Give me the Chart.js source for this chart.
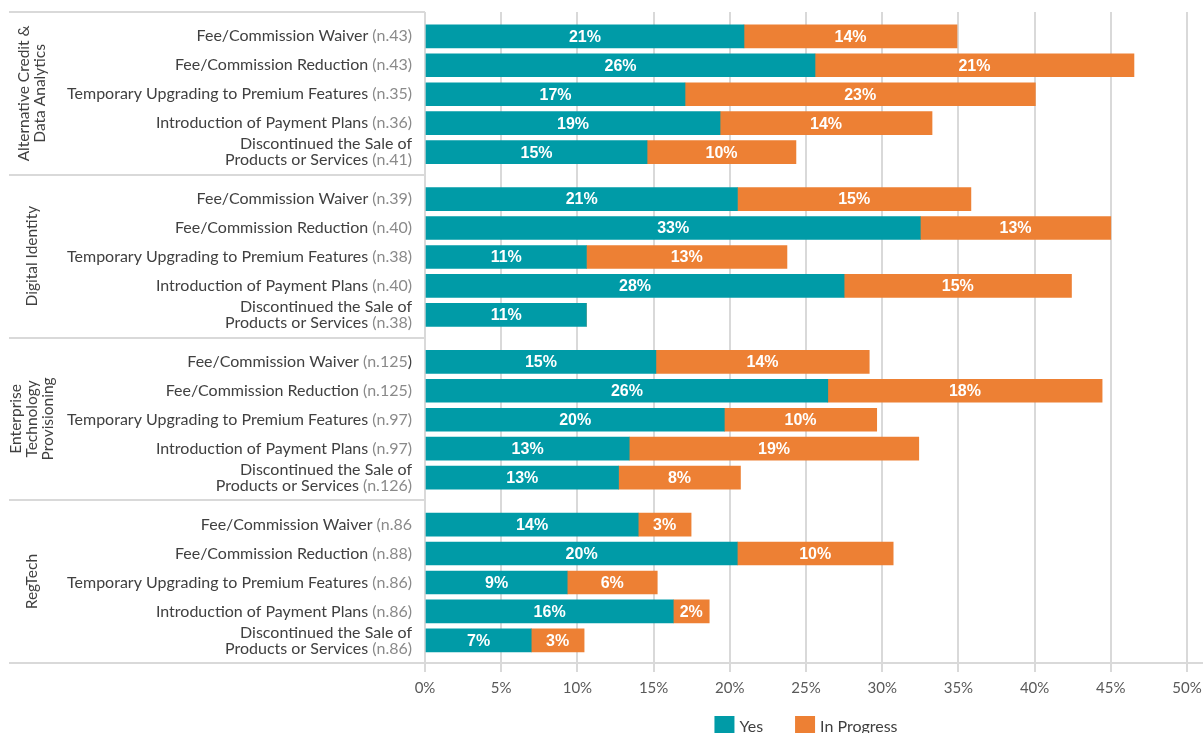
<!DOCTYPE html>
<html>
<head>
<meta charset="utf-8">
<title>Pricing actions by sector</title>
<script src="https://cdn.jsdelivr.net/npm/chart.js@4.4.0/dist/chart.umd.min.js"></script>
<style>
  html, body { margin: 0; padding: 0; background: #fff; overflow: hidden; }
  #chart1 { display: block; }
</style>
</head>
<body>
<canvas id="chart1" width="1203" height="733"></canvas>
<script>
const chart1 = document.querySelector('#chart1');

// sectors, one block of five bars each
const groupNames = [
    ['Alternative Credit &', 'Data Analytics'],
    ['Digital Identity'],
    ['Enterprise', 'Technology', 'Provisioning'],
    ['RegTech']
];

const actionNames = [
    ['Fee/Commission Waiver'],
    ['Fee/Commission Reduction'],
    ['Temporary Upgrading to Premium Features'],
    ['Introduction of Payment Plans'],
    ['Discontinued the Sale of', 'Products or Services']
];

// sample size notes, text after "|" is drawn in the dark label colour
const sampleNotes = [
    '(n.43)', '(n.43)', '(n.35)', '(n.36)', '(n.41)',
    '(n.39)', '(n.40)', '(n.38)', '(n.40)', '(n.38)',
    '(n.125|)', '(n.125)', '(n.97)', '(n.97)', '(n.126)',
    '(n.86', '(n.88)', '(n.86)', '(n.86)', '(n.86)'
];

const yesValues = [
    20.93, 25.59, 17.06, 19.36, 14.57,
    20.5, 32.5, 10.59, 27.5, 10.59,
    15.15, 26.43, 19.64, 13.4, 12.7,
    13.99, 20.49, 9.33, 16.29, 6.97
];

const progressValues = [
    13.98, 20.93, 22.99, 13.91, 9.77,
    15.32, 12.5, 13.16, 14.92, 0,
    14, 18, 10, 19, 8,
    3.47, 10.23, 5.91, 2.36, 3.47
];

const xTickValues = [0, 5, 10, 15, 20, 25, 30, 35, 40, 45, 50];

const TEAL = '#009ba7';
const ORANGE = '#ed8034';
const DARK = '#404040';
const GREY = '#8a8a8a';
const LINE = '#d9d9d9';

// each sector block is a little taller than its five rows
const GROUP_SPAN = 5.62;
const FIRST_ROW = 0.84;
const rowPos = [];
groupNames.forEach((g, gi) => {
    actionNames.forEach((a, ai) => rowPos.push(gi * GROUP_SPAN + FIRST_ROW + ai));
});

// sector titles, row labels, block separators, bar values and the legend
const labelPlugin = {
    id: 'rowLabels',
    afterDatasetsDraw(chart) {
        const ctx = chart.ctx;
        const yScale = chart.scales.y;
        const area = chart.chartArea;
        ctx.save();

        // separators
        ctx.strokeStyle = LINE;
        ctx.lineWidth = 2;
        for (let g = 0; g <= groupNames.length; g++) {
            const y = Math.round(yScale.getPixelForValue(g * GROUP_SPAN));
            ctx.beginPath();
            ctx.moveTo(9, y);
            ctx.lineTo(g === groupNames.length ? chart.width : area.left, y);
            ctx.stroke();
        }

        // row labels, right aligned against the axis
        ctx.font = '16px Lato';
        ctx.textBaseline = 'middle';
        ctx.textAlign = 'right';
        const rightEdge = 412;
        const lineH = 16;
        rowPos.forEach((pos, i) => {
            const y = yScale.getPixelForValue(pos);
            const lines = actionNames[i % actionNames.length];
            const [note, tail] = sampleNotes[i].split('|');
            lines.forEach((line, k) => {
                const ly = y + (k - (lines.length - 1) / 2) * lineH;
                let x = rightEdge;
                if (k === lines.length - 1) {
                    if (tail) {
                        ctx.fillStyle = DARK;
                        ctx.fillText(tail, x, ly);
                        x -= ctx.measureText(tail).width;
                    }
                    ctx.fillStyle = GREY;
                    ctx.fillText(note, x, ly);
                    x -= ctx.measureText(note + ' ').width;
                }
                ctx.fillStyle = DARK;
                ctx.fillText(line, x, ly);
            });
        });

        // sector titles, rotated
        ctx.font = '15.5px Lato';
        ctx.textAlign = 'center';
        ctx.fillStyle = DARK;
        groupNames.forEach((lines, g) => {
            const cy = yScale.getPixelForValue((g + 0.5) * GROUP_SPAN);
            lines.forEach((line, k) => {
                const cx = 32 + (k - (lines.length - 1) / 2) * 16;
                ctx.save();
                ctx.translate(cx, cy);
                ctx.rotate(-Math.PI / 2);
                ctx.fillText(line, 0, 0);
                ctx.restore();
            });
        });

        // values inside the bars
        ctx.font = 'bold 16px "Liberation Sans", Arial, sans-serif';
        ctx.fillStyle = '#ffffff';
        chart.data.datasets.forEach((ds, di) => {
            chart.getDatasetMeta(di).data.forEach((bar, i) => {
                const v = ds.data[i];
                if (!v) return;
                ctx.fillText(Math.round(v) + '%', (bar.x + bar.base) / 2, bar.y + 1);
            });
        });

        // legend under the axis, centred on the plot
        ctx.font = '16px Lato';
        ctx.textAlign = 'left';
        const items = chart.data.datasets.map(ds => ({
            text: ds.label,
            color: ds.backgroundColor,
            width: 20 + 5 + ctx.measureText(ds.label).width
        }));
        const gap = 32;
        const total = items.reduce((s, it) => s + it.width, 0) + gap * (items.length - 1);
        let x = (area.left + area.right) / 2 - total / 2;
        items.forEach(it => {
            ctx.fillStyle = it.color;
            ctx.fillRect(x, 716, 20, 20);
            ctx.fillStyle = DARK;
            ctx.fillText(it.text, x + 25, 727);
            x += it.width + gap;
        });

        ctx.restore();
    }
};

const displayChart = () => {
    const data = {
        labels: rowPos,
        datasets: [{
            label: 'Yes',
            data: yesValues,
            backgroundColor: TEAL,
            barThickness: 23
        }, {
            label: 'In Progress',
            data: progressValues,
            backgroundColor: ORANGE,
            barThickness: 23
        }]
    };

    const config = {
        type: 'bar',
        data: data,
        options: {
            indexAxis: 'y',
            responsive: false,
            animation: false,
            layout: { padding: { left: 425, right: 16, top: 12, bottom: 0 } },
            scales: {
                x: {
                    stacked: true,
                    min: 0,
                    max: 50,
                    afterBuildTicks: (scale) => {
                        scale.ticks = xTickValues.map(v => ({ value: v }));
                    },
                    afterFit: (scale) => {
                        scale.height = 70;
                        scale.paddingLeft = 0;
                        scale.paddingRight = 0;
                    },
                    ticks: {
                        callback: (v) => v + '%',
                        color: '#595959',
                        font: { family: 'Lato', size: 15 },
                        padding: 7,
                        maxRotation: 0
                    },
                    grid: { color: LINE, lineWidth: 2, tickLength: 9 },
                    border: { display: false }
                },
                y: {
                    type: 'linear',
                    stacked: true,
                    reverse: true,
                    offset: false,
                    min: 0,
                    max: groupNames.length * GROUP_SPAN,
                    display: false
                }
            },
            plugins: {
                legend: { display: false },
                tooltip: { enabled: false }
            }
        },
        plugins: [labelPlugin]
    };
    new Chart(chart1, config);
};

document.fonts.load('16px Lato').then(displayChart, displayChart);
</script>
</body>
</html>
